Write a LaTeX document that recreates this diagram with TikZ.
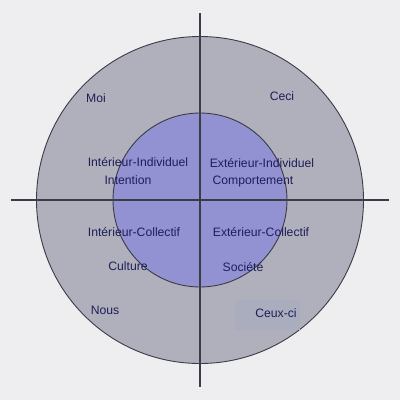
\documentclass[tikz,border=0pt]{standalone}
\usepackage{fontspec}
\setmainfont{Liberation Sans}
\definecolor{bgc}{RGB}{238,238,240}
\definecolor{ringc}{RGB}{176,176,189}
\definecolor{innerc}{RGB}{146,146,210}
\definecolor{linec}{RGB}{60,60,70}
\definecolor{txtc}{RGB}{30,30,90}
\definecolor{boxc}{RGB}{170,173,190}
\tikzset{
  lbl/.style={text=txtc, font=\fontsize{12.2}{14}\selectfont, inner sep=0pt, anchor=center},
  axis/.style={draw=linec, line width=1.4pt},
  ring/.style={draw=linec, line width=0.9pt}
}
\begin{document}
\begin{tikzpicture}[x=1pt,y=-1pt]
\fill[bgc] (0,0) rectangle (400,400);
\useasboundingbox (0,0) rectangle (400,400);
\node[circle, ring, fill=ringc, minimum size=327pt, inner sep=0pt] (outer) at (200,200) {};
\fill[boxc] (235,300) rectangle (300,330);
\node[circle, ring, fill=innerc, minimum size=174pt, inner sep=0pt] (inner) at (200,200) {};
\coordinate (L) at (11,200);
\coordinate (R) at (389,200);
\coordinate (T) at (200,13);
\coordinate (B) at (200,387);
\draw[axis] (L) -- (R);
\draw[axis] (T) -- (B);
\node[lbl] (moi) at (96,98) {Moi};
\node[lbl] (ceci) at (282,96) {Ceci};
\node[lbl] (ii) at (138,162) {Intérieur-Individuel};
\node[lbl] (int) at (128,180) {Intention};
\node[lbl] (ei) at (262,163) {Extérieur-Individuel};
\node[lbl] (comp) at (253,182) {Comportement};
\node[lbl] (ic) at (134,232) {Intérieur-Collectif};
\node[lbl] (ec) at (261,232) {Extérieur-Collectif};
\node[lbl] (cult) at (128,266) {Culture};
\node[lbl] (soc) at (243,267) {Société};
\node[lbl] (nous) at (105,310) {Nous};
\node[lbl] (ceux) at (276,313) {Ceux-ci};
\end{tikzpicture}
\end{document}
